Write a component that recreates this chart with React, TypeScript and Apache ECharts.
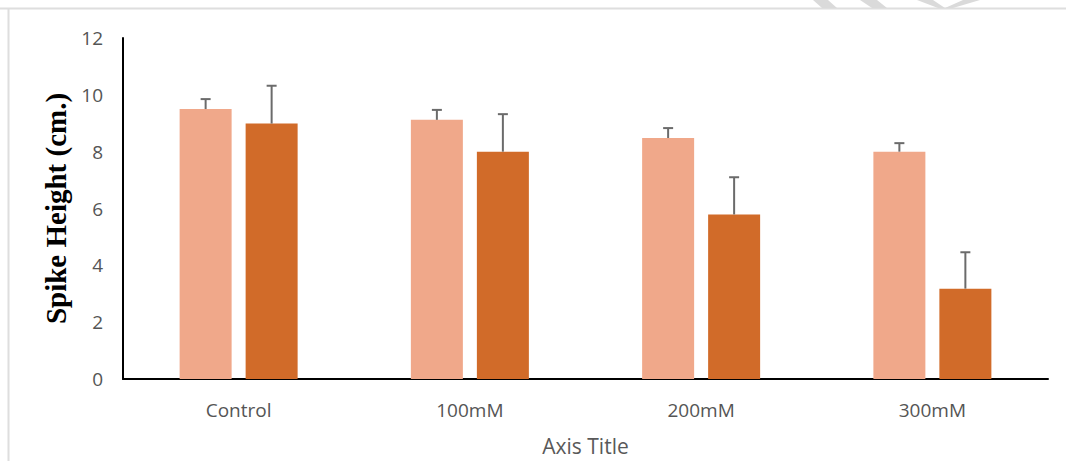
import React, { useEffect, useRef } from "react";
import * as echarts from "echarts";

const categories = ["Control", "100mM", "200mM", "300mM"];
const seriesA = [9.5, 9.12, 8.48, 8.0];
const errorA = [0.35, 0.35, 0.35, 0.3];
const seriesB = [8.99, 8.0, 5.79, 3.18];
const errorB = [1.33, 1.32, 1.31, 1.28];
const yTicks = { min: 0, max: 12, interval: 2 };

const COLOR_A = "#F0A88A";
const COLOR_B = "#D16B29";
const BAR_W = 52;
const BAR_GAP = 14;

export default function App() {
  const ref = useRef<HTMLDivElement>(null);
  useEffect(() => {
    document.body.style.margin = "0";
    const chart = echarts.init(ref.current!, undefined, { renderer: "svg" });
    const offset = (BAR_W + BAR_GAP) / 2;
    const errSeries = (vals: number[], errs: number[], dx: number) => ({
      type: "custom",
      silent: true,
      z: 5,
      data: vals.map((v, i) => [i, v, v + errs[i]]),
      renderItem: (params: any, api: any) => {
        const base = api.coord([api.value(0), api.value(1)]);
        const top = api.coord([api.value(0), api.value(2)]);
        const x = base[0] + dx;
        const style = { stroke: "#6b6b6b", lineWidth: 2 };
        return {
          type: "group",
          children: [
            { type: "line", shape: { x1: x, y1: base[1], x2: x, y2: top[1] }, style },
            { type: "line", shape: { x1: x - 5, y1: top[1], x2: x + 5, y2: top[1] }, style },
          ],
        };
      },
    });
    chart.setOption({
      animation: false,
      backgroundColor: "#ffffff",
      grid: { left: 123, right: 18, top: 38, bottom: 81 },
      graphic: [
        { type: "line", shape: { x1: 0, y1: 8.5, x2: 1066, y2: 8.5 }, style: { stroke: "#dedede", lineWidth: 2 } },
        { type: "line", shape: { x1: 8.5, y1: 8, x2: 8.5, y2: 461 }, style: { stroke: "#dedede", lineWidth: 2 } },
        { type: "polygon", shape: { points: [[813, 0], [828, 0], [837, 8], [822, 8]] }, style: { fill: "#dadada" } },
        { type: "polygon", shape: { points: [[860, 0], [877, 0], [887, 8], [872, 8]] }, style: { fill: "#dadada" } },
        { type: "polygon", shape: { points: [[917, 0], [933, 0], [945, 8], [938, 8]] }, style: { fill: "#dadada" } },
        { type: "polygon", shape: { points: [[963, 0], [980, 0], [953, 8], [945, 8]] }, style: { fill: "#dadada" } },
      ],
      xAxis: {
        type: "category",
        data: categories,
        name: "Axis Title",
        nameLocation: "middle",
        nameGap: 56,
        nameTextStyle: { color: "#595959", fontSize: 21, fontFamily: "Open Sans" },
        axisLine: { show: true, lineStyle: { color: "#000000", width: 2 } },
        axisTick: { show: false },
        axisLabel: { color: "#555555", fontSize: 19, fontFamily: "Open Sans", margin: 21 },
        splitLine: { show: false },
      },
      yAxis: {
        type: "value",
        min: yTicks.min,
        max: yTicks.max,
        interval: yTicks.interval,
        name: "Spike Height (cm.)",
        nameLocation: "middle",
        nameGap: 50,
        nameTextStyle: { color: "#000000", fontSize: 29, fontWeight: "bold", fontFamily: "Liberation Serif" },
        axisLine: { show: true, lineStyle: { color: "#000000", width: 2 } },
        axisTick: { show: false },
        axisLabel: { color: "#555555", fontSize: 19, fontFamily: "Open Sans", margin: 20 },
        splitLine: { show: false },
      },
      series: [
        { type: "bar", data: seriesA, barWidth: BAR_W, barGap: `${(BAR_GAP / BAR_W) * 100}%`, itemStyle: { color: COLOR_A } },
        { type: "bar", data: seriesB, barWidth: BAR_W, barGap: `${(BAR_GAP / BAR_W) * 100}%`, itemStyle: { color: COLOR_B } },
        errSeries(seriesA, errorA, -offset),
        errSeries(seriesB, errorB, offset),
      ],
    });
    return () => chart.dispose();
  }, []);
  return <div ref={ref} style={{ width: 1066, height: 461 }} />;
}
